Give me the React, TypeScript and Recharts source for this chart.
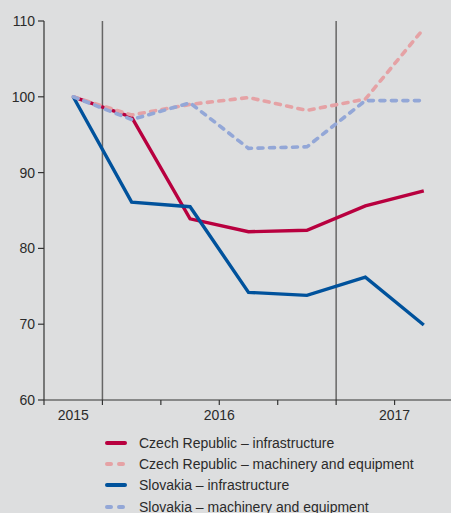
import React from "react";
import {
  LineChart,
  Line,
  XAxis,
  YAxis,
  ReferenceLine,
} from "recharts";

// quarters 2015 Q4 .. 2017 Q2
const periods = ["2015 Q4", "2016 Q1", "2016 Q2", "2016 Q3", "2016 Q4", "2017 Q1", "2017 Q2"];

const czInfra = [100, 97.3, 83.9, 82.2, 82.4, 85.6, 87.6];
const czMach = [100, 97.6, 99.0, 99.9, 98.2, 99.7, 109.0];
const skInfra = [100, 86.1, 85.5, 74.2, 73.8, 76.2, 69.9];
const skMach = [100, 97.0, 99.2, 93.2, 93.4, 99.5, 99.5];

const yTicks = [60, 70, 80, 90, 100, 110];
// year label positions on the quarter scale
const yearLabels = [
  { pos: 0.5, label: "2015" },
  { pos: 3, label: "2016" },
  { pos: 6, label: "2017" },
];
const yearBreaks = [1, 5];

const series = [
  { key: "czInfra", name: "Czech Republic – infrastructure", color: "#b8003f", dashed: false },
  { key: "czMach", name: "Czech Republic – machinery and equipment", color: "#e5a2a5", dashed: true },
  { key: "skInfra", name: "Slovakia – infrastructure", color: "#00529c", dashed: false },
  { key: "skMach", name: "Slovakia – machinery and equipment", color: "#93a7d7", dashed: true },
];

const data = periods.map((p, i) => ({
  period: p,
  x: i + 0.5,
  czInfra: czInfra[i],
  czMach: czMach[i],
  skInfra: skInfra[i],
  skMach: skMach[i],
}));

const FONT = "'Liberation Sans', Arial, sans-serif";
const TEXT = "#2b2b2b";
const AXIS = "#333";

const xTicks = [0, 0.5, 1, 2, 3, 4, 5, 6, 7];

const XTick = (props: any) => {
  const { x, y, payload } = props;
  const v = payload.value;
  const year = yearLabels.find((d) => d.pos === v);
  return (
    <g>
      {Number.isInteger(v) && (
        <line x1={x} x2={x} y1={400} y2={405} stroke={AXIS} strokeWidth={1.2} />
      )}
      {year && (
        <text x={x} y={y + 12} textAnchor="middle" fontSize={14} fill={TEXT} fontFamily={FONT}>
          {year.label}
        </text>
      )}
    </g>
  );
};

const App: React.FC = () => {
  return (
    <div
      style={{
        position: "absolute",
        left: 0,
        top: 0,
        width: 451,
        height: 513,
        background: "#dddedf",
        overflow: "hidden",
        fontFamily: FONT,
      }}
    >
      <LineChart
        width={451}
        height={430}
        data={data}
        margin={{ top: 21, right: -2, bottom: 0, left: 0 }}
      >
        <XAxis
          dataKey="x"
          type="number"
          domain={[0, 7]}
          ticks={xTicks}
          interval={0}
          tick={<XTick />}
          tickLine={false}
          axisLine={{ stroke: AXIS, strokeWidth: 1.2 }}
          height={30}
        />
        <YAxis
          domain={[60, 110]}
          ticks={yTicks}
          interval={0}
          width={44}
          tickSize={6}
          tickMargin={3}
          tick={{ fontSize: 14, fill: TEXT, fontFamily: FONT }}
          tickLine={{ stroke: AXIS, strokeWidth: 1.2 }}
          axisLine={{ stroke: AXIS, strokeWidth: 1.2 }}
        />
        {yearBreaks.map((b) => (
          <ReferenceLine key={b} x={b} stroke="#666" strokeWidth={1.5} />
        ))}
        {series.map((s) => (
          <Line
            key={s.key}
            dataKey={s.key}
            name={s.name}
            stroke={s.color}
            strokeWidth={s.dashed ? 3.6 : 3.4}
            strokeDasharray={s.dashed ? "5 6.5" : undefined}
            strokeLinecap={s.dashed ? "round" : "butt"}
            dot={false}
            activeDot={false}
            isAnimationActive={false}
          />
        ))}
      </LineChart>
      <div style={{ position: "absolute", left: 105, top: 432 }}>
        {series.map((s) => (
          <div
            key={s.key}
            style={{ display: "flex", alignItems: "center", height: 21.3 }}
          >
            <svg width={24} height={6} style={{ marginRight: 10 }}>
              <line
                x1={2}
                x2={20}
                y1={3}
                y2={3}
                stroke={s.color}
                strokeWidth={4}
                strokeLinecap="round"
                strokeDasharray={s.dashed ? "4 8" : undefined}
              />
            </svg>
            <span style={{ fontSize: 14, color: TEXT, whiteSpace: "nowrap" }}>{s.name}</span>
          </div>
        ))}
      </div>
    </div>
  );
};

export default App;
